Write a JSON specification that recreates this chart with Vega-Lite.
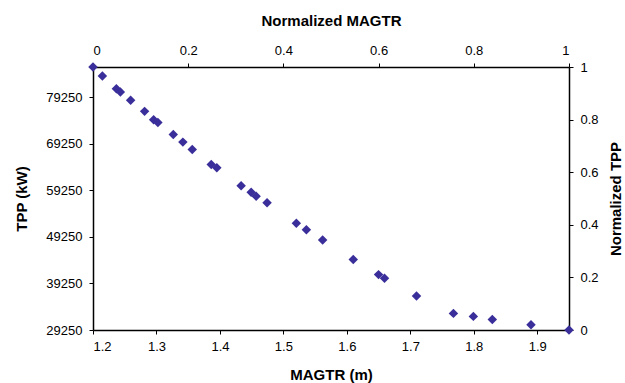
{
  "$schema": "https://vega.github.io/schema/vega-lite/v6.json",
  "autosize": "none",
  "width": 476,
  "height": 263,
  "padding": {"left": 93, "top": 67, "right": 56, "bottom": 53},
  "background": "white",
  "config": {
    "view": {"stroke": null},
    "font": "Liberation Sans",
    "axis": {
      "grid": false,
      "domainColor": "black",
      "domainWidth": 1.5,
      "tickColor": "black",
      "tickWidth": 1,
      "tickSize": 4,
      "labelColor": "black",
      "labelFont": "Liberation Sans",
      "labelFontSize": 13,
      "labelPadding": 6,
      "titleFont": "Liberation Sans",
      "titleFontSize": 15,
      "titleFontWeight": "bold",
      "titleColor": "black",
      "titleBaseline": "alphabetic",
      "titleAlign": "center"
    }
  },
  "layer": [
    {
      "data": {
        "values": [
          {"MAGTR": 1.200, "TPP": 85700},
          {"MAGTR": 1.2148, "TPP": 83764},
          {"MAGTR": 1.2368, "TPP": 81055},
          {"MAGTR": 1.2431, "TPP": 80325},
          {"MAGTR": 1.2593, "TPP": 78540},
          {"MAGTR": 1.2813, "TPP": 76176},
          {"MAGTR": 1.2955, "TPP": 74392},
          {"MAGTR": 1.3022, "TPP": 73811},
          {"MAGTR": 1.3265, "TPP": 71232},
          {"MAGTR": 1.3416, "TPP": 69576},
          {"MAGTR": 1.3564, "TPP": 68007},
          {"MAGTR": 1.3863, "TPP": 64783},
          {"MAGTR": 1.3951, "TPP": 64074},
          {"MAGTR": 1.4334, "TPP": 60204},
          {"MAGTR": 1.4492, "TPP": 58829},
          {"MAGTR": 1.4570, "TPP": 57969},
          {"MAGTR": 1.4743, "TPP": 56550},
          {"MAGTR": 1.5204, "TPP": 52165},
          {"MAGTR": 1.5362, "TPP": 50746},
          {"MAGTR": 1.5618, "TPP": 48553},
          {"MAGTR": 1.6101, "TPP": 44362},
          {"MAGTR": 1.6499, "TPP": 41137},
          {"MAGTR": 1.6593, "TPP": 40342},
          {"MAGTR": 1.7097, "TPP": 36559},
          {"MAGTR": 1.7679, "TPP": 32818},
          {"MAGTR": 1.7993, "TPP": 32173},
          {"MAGTR": 1.8292, "TPP": 31529},
          {"MAGTR": 1.8901, "TPP": 30389},
          {"MAGTR": 1.9500, "TPP": 29250}
        ]
      },
      "mark": {"type": "point", "shape": "diamond", "filled": true, "size": 90, "color": "#3a2f9a", "opacity": 1},
      "encoding": {
        "x": {
          "field": "MAGTR", "type": "quantitative",
          "scale": {"domain": [1.2, 1.95], "nice": false, "zero": false},
          "axis": {"orient": "bottom", "title": "MAGTR (m)", "values": [1.2, 1.3, 1.4, 1.5, 1.6, 1.7, 1.8, 1.9], "format": "~g", "titleX": 238, "titleY": 49}
        },
        "y": {
          "field": "TPP", "type": "quantitative",
          "scale": {"domain": [29250, 85700], "nice": false, "zero": false},
          "axis": {"orient": "left", "title": "TPP (kW)", "values": [29250, 39250, 49250, 59250, 69250, 79250], "format": "d", "labelPadding": 7, "titleAngle": -90, "titleX": -67, "titleY": 131.5}
        }
      }
    },
    {
      "data": {"values": [{"nx": 0, "ny": 0}, {"nx": 1, "ny": 1}]},
      "mark": {"type": "point", "opacity": 0},
      "encoding": {
        "x": {
          "field": "nx", "type": "quantitative",
          "scale": {"domain": [0, 1], "nice": false},
          "axis": {"orient": "top", "title": "Normalized MAGTR", "values": [0, 0.2, 0.4, 0.6, 0.8, 1], "format": "~g", "titleX": 238, "titleY": -42}
        },
        "y": {
          "field": "ny", "type": "quantitative",
          "scale": {"domain": [0, 1], "nice": false},
          "axis": {"orient": "right", "title": "Normalized TPP", "values": [0, 0.2, 0.4, 0.6, 0.8, 1], "format": "~g", "labelPadding": 7, "titleAngle": -90, "titleX": 51, "titleY": 131.5}
        }
      }
    }
  ],
  "resolve": {"scale": {"x": "independent", "y": "independent"}, "axis": {"x": "independent", "y": "independent"}}
}
